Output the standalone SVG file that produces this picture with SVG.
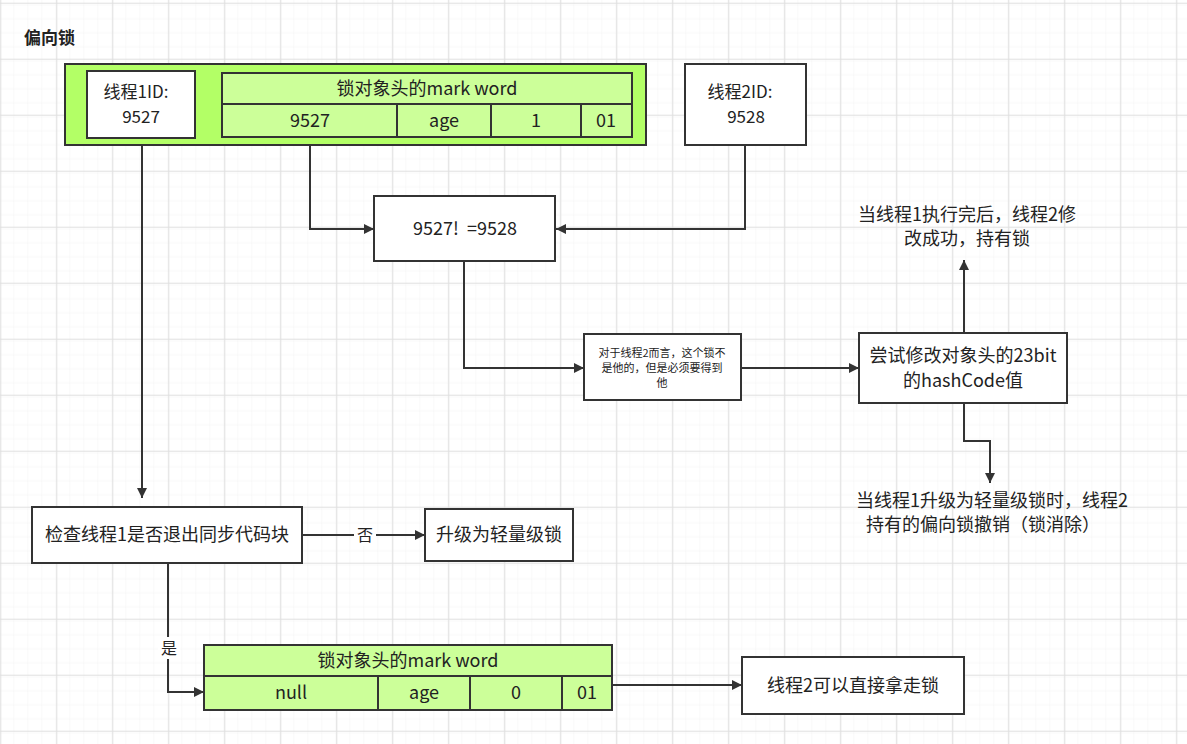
<svg xmlns="http://www.w3.org/2000/svg" width="1187" height="744" viewBox="0 0 1187 744">
<defs>
<pattern id="minor" width="14" height="14" patternUnits="userSpaceOnUse" x="0" y="2.7">
<path d="M14 0V14M0 14H14" fill="none" stroke="#f2f2f2" stroke-width="1"/>
</pattern>
<pattern id="major" width="56" height="56" patternUnits="userSpaceOnUse" x="0.3" y="2.7">
<rect width="56" height="56" fill="url(#minor)"/>
<path d="M0.5 0V56M0 0.5H56" fill="none" stroke="#e0e0e0" stroke-width="1"/>
</pattern>
<marker id="arr" viewBox="0 0 10 10" refX="10" refY="5" markerWidth="10" markerHeight="10" markerUnits="userSpaceOnUse" orient="auto">
<path d="M0 0L10 5L0 10Z" fill="#333"/>
</marker>
<style>
text{font-family:"Noto Sans CJK SC","Liberation Sans",sans-serif;fill:#222;text-anchor:middle;font-size:18px}
.box{fill:#fff;stroke:#333;stroke-width:2}
.outer{fill:#b3ff66;stroke:#333;stroke-width:2}
.cell{fill:#ccff99;stroke:#333;stroke-width:2}
.con{fill:none;stroke:#333;stroke-width:2;marker-end:url(#arr)}
.small{font-size:11px}
.lbl{font-size:16px}
.id{font-size:17px}
</style>
</defs>
<rect width="1187" height="744" fill="#fff"/>
<rect width="1187" height="744" fill="url(#major)"/>
<text x="24" y="44" style="text-anchor:start;font-weight:bold;font-size:17px">偏向锁</text>

<g id="connectors">
<path class="con" d="M142 138V498"/>
<path class="con" d="M310 137V229H374"/>
<path class="con" d="M745 145V229H556"/>
<path class="con" d="M464 261V368H584"/>
<path class="con" d="M741 368H859"/>
<path class="con" d="M964 333V260"/>
<path class="con" d="M964 403V441H990V483"/>
<path class="con" d="M302 535H425"/>
<path class="con" d="M168 563V692H204"/>
<path class="con" d="M612 685H742"/>
<rect x="354" y="524" width="22" height="22" fill="#fff"/>
<text x="365" y="541" class="lbl">否</text>
<rect x="158" y="637" width="22" height="22" fill="#fff"/>
<text x="169" y="654" class="lbl">是</text>
</g>

<g id="object-header">
<rect class="outer" x="65" y="64" width="581" height="81"/>
</g>
<g id="thread1">
<rect class="box" x="87" y="71" width="108" height="67"/>
<text x="136" y="98" class="id">线程1ID:</text>
<text x="141" y="123" class="id">9527</text>
</g>
<g id="markword1">
<rect class="cell" x="222" y="73" width="410" height="31"/>
<text x="427" y="95">锁对象头的mark word</text>
<rect class="cell" x="222" y="104" width="175" height="33"/>
<rect class="cell" x="397" y="104" width="94" height="33"/>
<rect class="cell" x="491" y="104" width="90" height="33"/>
<rect class="cell" x="581" y="104" width="51" height="33"/>
<text x="310" y="127">9527</text>
<text x="444" y="127">age</text>
<text x="536" y="127">1</text>
<text x="606" y="127">01</text>
</g>
<g id="thread2">
<rect class="box" x="685" y="64" width="121" height="81"/>
<text x="740" y="98" class="id">线程2ID:</text>
<text x="746" y="123" class="id">9528</text>
</g>
<g id="compare">
<rect class="box" x="374" y="196" width="181" height="65"/>
<text x="465" y="235" style="white-space:pre">9527!  =9528</text>
</g>
<g id="not-mine">
<rect class="box" x="584" y="334" width="157" height="66"/>
<text x="662" y="357" class="small">对于线程2而言，这个锁不</text>
<text x="662" y="372" class="small">是他的，但是必须要得到</text>
<text x="662" y="387" class="small">他</text>
</g>
<g id="try-modify">
<rect class="box" x="859" y="333" width="208" height="70"/>
<text x="963" y="362">尝试修改对象头的23bit</text>
<text x="963" y="387">的hashCode值</text>
</g>
<g id="success">
<text x="967" y="221">当线程1执行完后，线程2修</text>
<text x="967" y="245">改成功，持有锁</text>
</g>
<g id="revoke">
<text x="992" y="507">当线程1升级为轻量级锁时，线程2</text>
<text x="983" y="531">持有的偏向锁撤销（锁消除）</text>
</g>
<g id="check">
<rect class="box" x="32" y="507" width="270" height="56"/>
<text x="167" y="541">检查线程1是否退出同步代码块</text>
</g>
<g id="upgrade">
<rect class="box" x="425" y="509" width="148" height="52"/>
<text x="499" y="541">升级为轻量级锁</text>
</g>
<g id="markword2">
<rect class="cell" x="204" y="645" width="408" height="31"/>
<text x="408" y="667">锁对象头的mark word</text>
<rect class="cell" x="204" y="676" width="174" height="34"/>
<rect class="cell" x="378" y="676" width="92" height="34"/>
<rect class="cell" x="470" y="676" width="92" height="34"/>
<rect class="cell" x="562" y="676" width="50" height="34"/>
<text x="291" y="699">null</text>
<text x="424" y="699">age</text>
<text x="516" y="699">0</text>
<text x="587" y="699">01</text>
</g>
<g id="take-lock">
<rect class="box" x="742" y="657" width="222" height="57"/>
<text x="853" y="692">线程2可以直接拿走锁</text>
</g>
</svg>
